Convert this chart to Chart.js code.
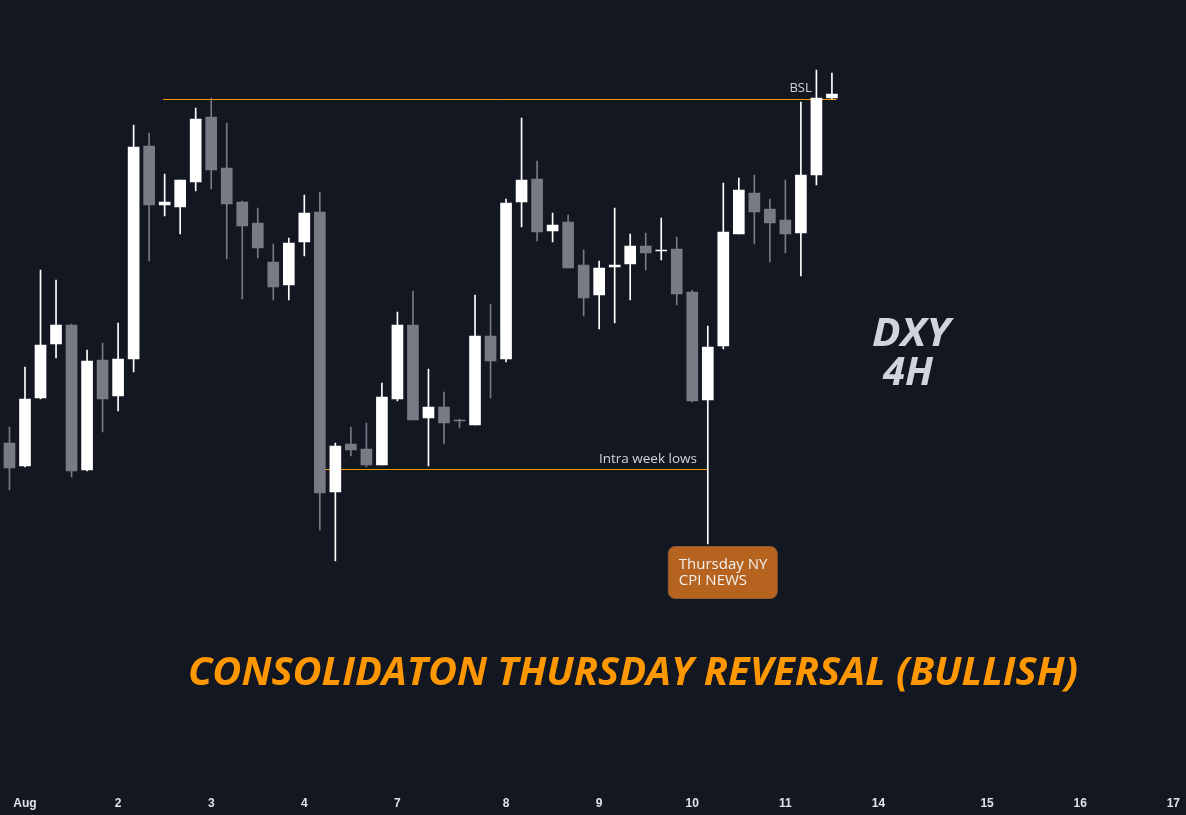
<!DOCTYPE html>
<html>
<head>
<meta charset="utf-8">
<script src="https://cdn.jsdelivr.net/npm/chart.js@4.4.0/dist/chart.umd.min.js"></script>
<style>
  html, body { margin: 0; padding: 0; background: #131722; }
  #wrap { position: relative; width: 1186px; height: 815px; }
</style>
</head>
<body>
<div id="wrap"><canvas id="chart" width="1186" height="815"></canvas></div>
<script>
// DXY 4H candles, Aug 1 -> Aug 11
const opens = [101.971, 101.902, 102.106, 102.268, 102.325, 101.890, 102.220, 102.112, 102.223, 102.862,
               102.685, 102.679, 102.754, 102.949, 102.796, 102.694, 102.631, 102.514, 102.445, 102.574,
               102.664, 101.824, 101.968, 101.953, 101.905, 102.103, 102.325, 102.046, 102.079, 102.040,
               102.025, 102.292, 102.223, 102.694, 102.763, 102.607, 102.634, 102.505, 102.415, 102.499,
               102.508, 102.562, 102.547, 102.553, 102.424, 102.100, 102.262, 102.598, 102.721, 102.673,
               102.640, 102.601, 102.775, 103.006];
const highs = [102.019, 102.199, 102.490, 102.460, 102.328, 102.250, 102.271, 102.331, 102.925, 102.901,
               102.778, 102.760, 102.976, 103.006, 102.931, 102.697, 102.676, 102.568, 102.586, 102.715,
               102.724, 101.971, 102.019, 102.031, 102.151, 102.364, 102.427, 102.193, 102.124, 102.043,
               102.415, 102.388, 102.703, 102.946, 102.817, 102.661, 102.655, 102.550, 102.517, 102.676,
               102.598, 102.601, 102.646, 102.589, 102.430, 102.322, 102.751, 102.766, 102.775, 102.703,
               102.760, 102.994, 103.090, 103.081];
const lows = [101.830, 101.899, 102.103, 102.226, 101.869, 101.887, 102.004, 102.067, 102.184, 102.517,
              102.652, 102.598, 102.727, 102.733, 102.523, 102.403, 102.526, 102.400, 102.400, 102.532,
              101.710, 101.617, 101.932, 101.899, 101.905, 102.097, 102.040, 101.902, 101.968, 102.016,
              102.025, 102.106, 102.214, 102.619, 102.577, 102.574, 102.496, 102.352, 102.313, 102.331,
              102.400, 102.490, 102.520, 102.385, 102.094, 101.668, 102.253, 102.598, 102.568, 102.514,
              102.541, 102.472, 102.745, 103.003];
const closes = [101.896, 102.103, 102.265, 102.325, 101.887, 102.217, 102.103, 102.223, 102.859, 102.685,
                102.694, 102.760, 102.943, 102.790, 102.688, 102.622, 102.556, 102.439, 102.571, 102.661,
                101.821, 101.962, 101.950, 101.905, 102.109, 102.325, 102.040, 102.079, 102.031, 102.037,
                102.292, 102.217, 102.691, 102.760, 102.604, 102.625, 102.496, 102.406, 102.496, 102.505,
                102.562, 102.541, 102.550, 102.418, 102.097, 102.259, 102.604, 102.730, 102.664, 102.631,
                102.598, 102.775, 103.006, 103.018];

// day labels sit on the bar index where each day starts
const dayTickIndex = [1, 7, 13, 19, 25, 32, 38, 44, 50, 56, 63, 69, 75];
const dayTickLabels = ['Aug', '2', '3', '4', '7', '8', '9', '10', '11', '14', '15', '16', '17'];

// drawn levels
const bslLevel = 103.0015;
const bslFrom = 9.9, bslTo = 53.3;
const weekLowLevel = 101.8915;
const weekLowFrom = 20.3, weekLowTo = 45;
const cpiBar = 45;

const BULL = '#ffffff';
const BEAR = '#787b86';
const BG = '#131722';
const TEXT = '#d1d4dc';

const candleColors = opens.map((o, i) => closes[i] >= o ? BULL : BEAR);

const bodies = opens.map((o, i) => ({x: i, y: [o, closes[i]]}));
const wicks = lows.map((l, i) => ({x: i, y: [l, highs[i]]}));

const background = {
    id: 'background',
    beforeDraw(chart) {
        const ctx = chart.ctx;
        ctx.save();
        ctx.fillStyle = BG;
        ctx.fillRect(0, 0, chart.width, chart.height);
        ctx.restore();
    }
};

function fitText(ctx, text, cx, baseline, width) {
    const w = ctx.measureText(text).width;
    ctx.save();
    ctx.translate(cx, baseline);
    ctx.scale(width / w, 1);
    ctx.textAlign = 'center';
    ctx.fillText(text, 0, 0);
    ctx.restore();
}

const notes = {
    id: 'notes',
    afterDatasetsDraw(chart) {
        const {ctx, scales: {x, y}} = chart;
        ctx.save();
        ctx.textBaseline = 'alphabetic';

        // level labels
        ctx.fillStyle = TEXT;
        ctx.font = '13px "Open Sans"';
        ctx.textAlign = 'right';
        ctx.fillText('BSL', x.getPixelForValue(51.7), y.getPixelForValue(bslLevel) - 8);
        ctx.font = '13.5px "Open Sans"';
        ctx.fillText('Intra week lows', x.getPixelForValue(44.3), y.getPixelForValue(weekLowLevel) - 7);

        // CPI callout under the Thursday wick
        const bx = x.getPixelForValue(cpiBar) - 40;
        const by = y.getPixelForValue(lows[cpiBar]) + 2;
        ctx.beginPath();
        ctx.roundRect(bx + 0.5, by + 0.5, 109, 52, 7);
        ctx.fillStyle = '#b5631e';
        ctx.fill();
        ctx.strokeStyle = '#8f5a33';
        ctx.lineWidth = 1;
        ctx.stroke();
        ctx.fillStyle = '#f2f2f2';
        ctx.font = '15px "Open Sans"';
        ctx.textAlign = 'left';
        ctx.fillText('Thursday NY', bx + 11, by + 23);
        ctx.fillText('CPI NEWS', bx + 11, by + 39);

        // symbol / timeframe
        ctx.fillStyle = TEXT;
        ctx.font = 'italic bold 40px "Open Sans"';
        fitText(ctx, 'DXY', 911, 346, 78);
        fitText(ctx, '4H', 908, 385, 50);

        // headline
        ctx.fillStyle = '#ff9800';
        ctx.font = 'italic bold 40px "Open Sans"';
        fitText(ctx, 'CONSOLIDATON THURSDAY REVERSAL (BULLISH)', 633, 685, 890);
        ctx.restore();
    }
};

new Chart(document.getElementById('chart'), {
    type: 'bar',
    data: {
        datasets: [
            {
                label: 'body',
                data: bodies,
                backgroundColor: candleColors,
                borderWidth: 0,
                barThickness: 11,
                minBarLength: 1,
                grouped: false,
            },
            {
                label: 'wick',
                data: wicks,
                backgroundColor: candleColors,
                borderWidth: 0,
                barThickness: 1,
                grouped: false,
            },
            {
                type: 'line',
                label: 'BSL',
                data: [{x: bslFrom, y: bslLevel}, {x: bslTo, y: bslLevel}],
                borderColor: '#ff9800',
                borderWidth: 1,
                pointRadius: 0,
            },
            {
                type: 'line',
                label: 'Intra week lows',
                data: [{x: weekLowFrom, y: weekLowLevel}, {x: weekLowTo, y: weekLowLevel}],
                borderColor: '#ff9800',
                borderWidth: 1,
                pointRadius: 0,
            },
        ]
    },
    options: {
        responsive: false,
        animation: false,
        layout: {padding: 0},
        plugins: {legend: {display: false}, tooltip: {enabled: false}},
        scales: {
            x: {
                type: 'linear',
                offset: false,
                min: -0.611,
                max: 75.66,
                grid: {display: false, drawTicks: false},
                border: {display: false},
                afterBuildTicks: scale => { scale.ticks = dayTickIndex.map(v => ({value: v})); },
                afterFit: scale => { scale.height = 25; },
                ticks: {
                    color: '#e0e3eb',
                    autoSkip: false,
                    maxRotation: 0,
                    padding: 6,
                    font: {family: '"Liberation Sans Narrow", "Liberation Sans", sans-serif', size: 12, weight: 'bold'},
                    callback: (value, index) => dayTickLabels[index],
                }
            },
            y: {display: false, min: 100.93, max: 103.3}
        }
    },
    plugins: [background, notes]
});
</script>
</body>
</html>
